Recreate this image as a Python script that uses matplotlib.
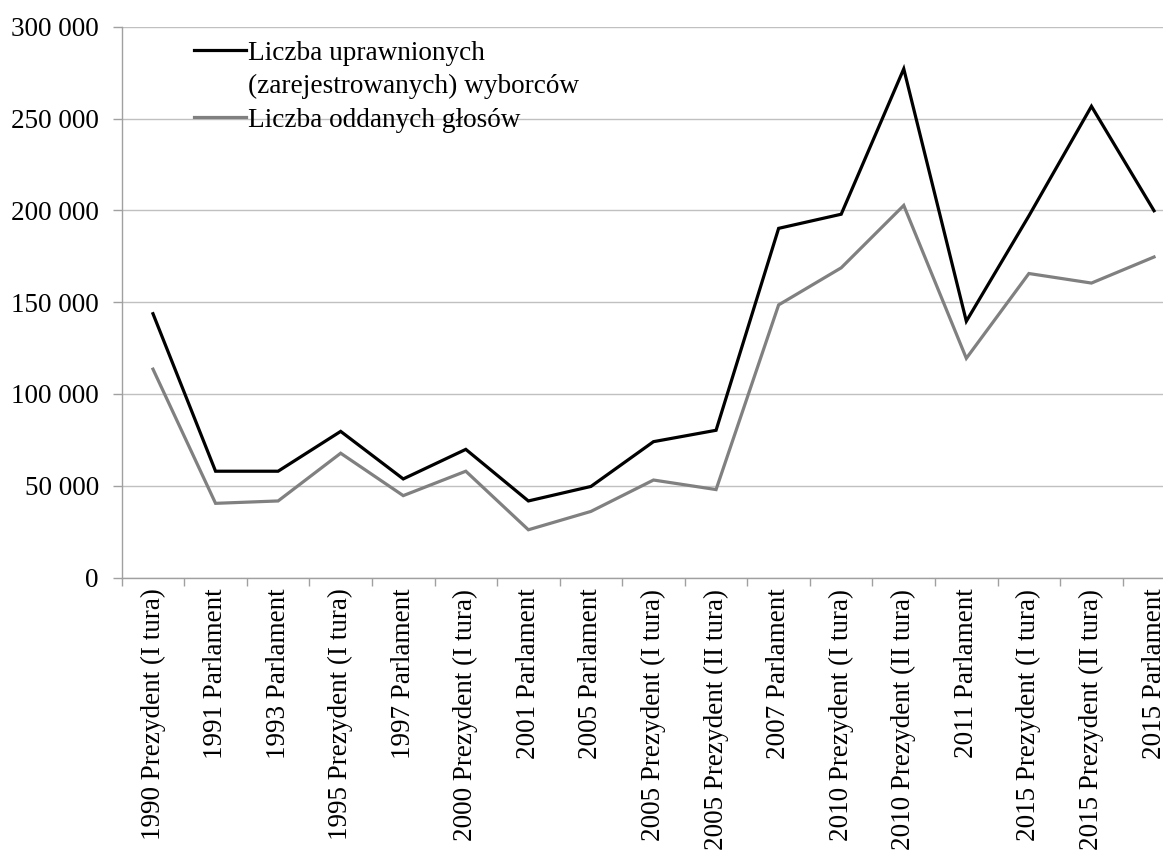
import matplotlib
matplotlib.use("Agg")
import matplotlib.pyplot as plt
from matplotlib.lines import Line2D
from matplotlib.ticker import FuncFormatter, FixedLocator, MultipleLocator

plt.rcParams['font.family'] = ['Liberation Serif', 'DejaVu Serif']

categories = [
    "1990 Prezydent (I tura)", "1991 Parlament", "1993 Parlament",
    "1995 Prezydent (I tura)", "1997 Parlament", "2000 Prezydent (I tura)",
    "2001 Parlament", "2005 Parlament", "2005 Prezydent (I tura)",
    "2005 Prezydent (II tura)", "2007 Parlament", "2010 Prezydent (I tura)",
    "2010 Prezydent (II tura)", "2011 Parlament", "2015 Prezydent (I tura)",
    "2015 Prezydent (II tura)", "2015 Parlament",
]
uprawnieni = [143700, 57900, 57900, 79600, 53700, 69800, 41700, 49600, 74000,
              80200, 190200, 197900, 277100, 139600, 197000, 256700, 199800]
oddane = [113500, 40400, 41700, 67700, 44600, 57900, 26000, 36000, 53100,
          47900, 148500, 168700, 202700, 119400, 165600, 160400, 174600]

W, H = 1163, 850
fig = plt.figure(figsize=(W / 100, H / 100), dpi=100)
left, right, top, bottom = 121.7, 1185.3, 26.8, 577.5
ax = fig.add_axes([left / W, 1 - bottom / H, (right - left) / W, (bottom - top) / H])

x = list(range(len(categories)))
l1, = ax.plot(x, uprawnieni, color='black', lw=2.3, solid_joinstyle='miter')
l2, = ax.plot(x, oddane, color='#808080', lw=2.3, solid_joinstyle='miter')

ax.set_xlim(-0.5, len(categories) - 0.5)
ax.set_ylim(0, 300000)
ax.yaxis.set_major_locator(MultipleLocator(50000))
ax.yaxis.set_major_formatter(FuncFormatter(lambda v, p: f"{int(v):,}".replace(",", " ")))
ax.grid(axis='y', color='#c0c0c0', lw=1.0)
ax.set_axisbelow(True)

ax.set_xticks([i + 0.5 for i in range(-1, len(categories))])
ax.set_xticklabels([])
ax.xaxis.set_minor_locator(FixedLocator(x))
ax.set_xticks(x, minor=True)
ax.set_xticklabels(categories, minor=True, rotation=90, fontsize=19.5)
ax.tick_params(axis='x', which='minor', length=0, pad=8)
ax.tick_params(axis='x', which='major', length=6, color='#a0a0a0', width=1)
ax.tick_params(axis='y', length=6.5, color='#a0a0a0', width=1, labelsize=19.5, pad=10)

for s in ['top', 'right']:
    ax.spines[s].set_visible(False)
for s in ['left', 'bottom']:
    ax.spines[s].set_color('#a0a0a0')
    ax.spines[s].set_linewidth(1)

blank = Line2D([], [], color='none')
ax.legend([l1, blank, l2],
          ["Liczba uprawnionych", "(zarejestrowanych) wyborców", "Liczba oddanych głosów"],
          loc='upper left', bbox_to_anchor=(0.0576, 0.9945), frameon=False,
          fontsize=19.6, handlelength=1.9, handletextpad=0.1, labelspacing=0.31,
          borderaxespad=0)

fig.savefig("out.png", dpi=100)
